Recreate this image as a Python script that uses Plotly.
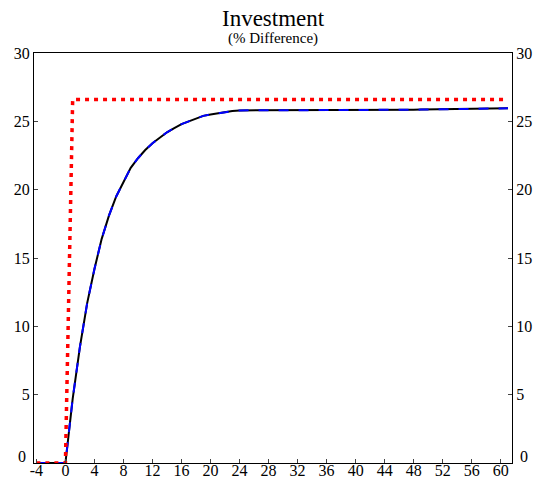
import plotly.graph_objects as go

periods = list(range(-4, 62))
pre = [0.0] * 5
red_post = [26.6] * 61
red = pre + red_post
curve_post = [4.7, 8.5, 11.7, 14.2, 16.4, 18.1, 19.5, 20.6, 21.6, 22.3,
              22.9, 23.4, 23.8, 24.2, 24.5, 24.8, 25.0, 25.2, 25.4, 25.5,
              25.6, 25.7, 25.75, 25.8, 25.8, 25.82, 25.83, 25.84, 25.85, 25.85,
              25.85, 25.85, 25.85, 25.85, 25.85, 25.85, 25.84, 25.83, 25.83, 25.83,
              25.83, 25.83, 25.83, 25.83, 25.83, 25.83, 25.84, 25.85, 25.86, 25.87,
              25.88, 25.89, 25.9, 25.9, 25.91, 25.92, 25.93, 25.94, 25.95, 25.95,
              25.95]
curve = pre + curve_post
xticks = list(range(-4, 61, 4))
xticklabels = [str(v) for v in xticks]  # plain hyphen for -4
yticks = [5, 10, 15, 20, 25, 30]
yticklabels = [str(v) for v in yticks]

font = "Liberation Serif, Times New Roman, serif"
fig = go.Figure()
fig.add_trace(go.Scatter(x=periods, y=curve, mode="lines", cliponaxis=False,
                         line=dict(color="black", width=2), showlegend=False))
fig.add_trace(go.Scatter(x=periods, y=curve, mode="lines", cliponaxis=False,
                         line=dict(color="#0000ff", width=2, dash="10px,10px"), showlegend=False))
fig.add_trace(go.Scatter(x=periods, y=red, mode="lines", cliponaxis=False,
                         line=dict(color="#ff0000", width=3.5, dash="4px,5px"), showlegend=False))
fig.add_trace(go.Scatter(x=[None], y=[None], yaxis="y2", showlegend=False))

yr = [0, 30]
axcommon = dict(ticks="inside", ticklen=4, showline=True, linecolor="black",
                linewidth=1, showgrid=False, zeroline=False, automargin=False,
                tickfont=dict(size=16))
fig.update_layout(
    width=537, height=479,
    margin=dict(l=34, r=25, t=53, b=16),
    plot_bgcolor="white", paper_bgcolor="white",
    font=dict(family=font, size=16, color="black"),
    xaxis=dict(range=[-4.33, 61.55], tickvals=xticks, ticktext=xticklabels,
               mirror=True, ticklabelstandoff=-7, **axcommon),
    yaxis=dict(range=yr, tickvals=yticks, ticktext=yticklabels, **axcommon),
    yaxis2=dict(range=yr, tickvals=yticks, ticktext=yticklabels, overlaying="y",
                side="right", **axcommon),
    annotations=[
        dict(text="Investment", x=0.5, xref="paper", y=1, yref="paper",
             yanchor="bottom", yshift=20, showarrow=False, font=dict(size=23)),
        dict(text="(% Difference)", x=0.5, xref="paper", y=1, yref="paper",
             yanchor="bottom", yshift=4, showarrow=False, font=dict(size=15)),
        dict(text="0", x=0, xref="paper", xanchor="right", xshift=-6,
             y=0, yref="paper", yanchor="middle", yshift=7, showarrow=False,
             font=dict(size=16)),
        dict(text="0", x=1, xref="paper", xanchor="left", xshift=6,
             y=0, yref="paper", yanchor="middle", yshift=7, showarrow=False,
             font=dict(size=16)),
    ],
)
fig.write_html("out.html")
